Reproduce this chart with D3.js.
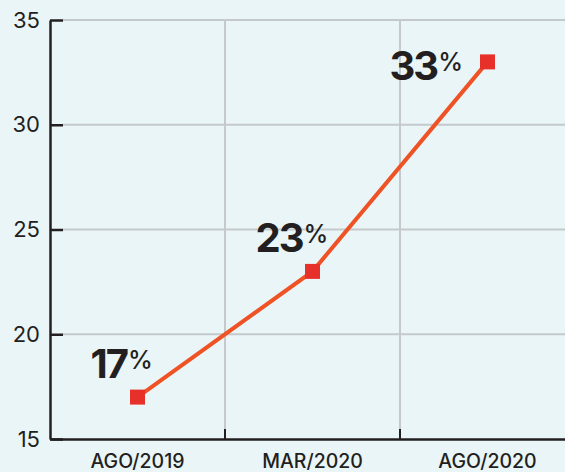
<!DOCTYPE html>
<html lang="es">
<head>
    <meta charset="UTF-8">
    <title>LineChart</title>
    <style>
        body { margin: 0; background: #eaf5f7; }
        svg { display: block; }
    </style>
</head>
<body>
<script src="https://d3js.org/d3.v7.min.js"></script>
<script>

    let w = 565, h = 472;

    // datos
    let categories = ["AGO/2019", "MAR/2020", "AGO/2020"];
    let values = [17, 23, 33];
    let yTicks = [15, 20, 25, 30, 35];

    // desplazamiento de las etiquetas respecto a cada punto
    let labelOffset = [[-47, -19], [-57, -19], [-98, 18]];

    let svg = d3.select("body")
        .append("svg")
        .attr("width", w)
        .attr("height", h);

    svg.append("rect")
        .attr("width", w)
        .attr("height", h)
        .attr("fill", "#eaf5f7");

    let xScale = d3.scaleBand()
        .domain(categories)
        .range([50, 575])
        .padding(0);

    let yScale = d3.scaleLinear()
        .domain([15, 35])
        .range([439, 20]);

    let ink = "#231f20";
    let grid = "#c6c9cb";

    // rejilla horizontal
    svg.append("g")
        .selectAll("line")
        .data(yTicks.slice(1))
        .enter()
        .append("line")
        .attr("x1", 63)
        .attr("x2", w)
        .attr("y1", d => yScale(d))
        .attr("y2", d => yScale(d))
        .attr("stroke", grid)
        .attr("stroke-width", 2);

    // rejilla vertical (límites de las bandas)
    let bounds = categories.slice(0, -1).map(c => xScale(c) + xScale.bandwidth());
    svg.append("g")
        .selectAll("line")
        .data(bounds)
        .enter()
        .append("line")
        .attr("x1", d => d)
        .attr("x2", d => d)
        .attr("y1", yScale(35))
        .attr("y2", yScale(15) - 10)
        .attr("stroke", grid)
        .attr("stroke-width", 2);

    // marcas oscuras sobre el eje x
    svg.append("g")
        .selectAll("line")
        .data(bounds)
        .enter()
        .append("line")
        .attr("x1", d => d)
        .attr("x2", d => d)
        .attr("y1", yScale(15) - 10)
        .attr("y2", yScale(15))
        .attr("stroke", ink)
        .attr("stroke-width", 2);

    // eje y
    let yAxis = d3.axisLeft(yScale)
        .tickValues(yTicks)
        .tickSizeInner(-13)
        .tickSizeOuter(0)
        .tickPadding(10);

    let gy = svg.append("g")
        .attr("transform", "translate(50,0)")
        .call(yAxis);
    gy.select(".domain").attr("stroke", ink).attr("stroke-width", 2.5);
    gy.selectAll(".tick line").attr("stroke", ink).attr("stroke-width", 2.5);
    gy.selectAll(".tick text")
        .attr("fill", ink)
        .style("font-family", "Inter, 'Noto Sans', sans-serif")
        .style("font-size", "22px")
        .style("font-weight", 400);

    // eje x
    let xAxis = d3.axisBottom(xScale)
        .tickSize(0)
        .tickPadding(15);
    let gx = svg.append("g")
        .attr("transform", "translate(0," + yScale(15) + ")")
        .call(xAxis);
    gx.select(".domain").attr("stroke", ink).attr("stroke-width", 2.5);
    gx.selectAll(".tick text")
        .attr("fill", ink)
        .style("font-family", "Inter, 'Noto Sans', sans-serif")
        .style("font-size", "19.5px")
        .style("font-weight", 500);

    // línea
    let pts = categories.map((c, i) => ({
        x: xScale(c) + xScale.bandwidth() / 2,
        y: yScale(values[i]),
        v: values[i]
    }));

    let line = d3.line()
        .x(d => d.x)
        .y(d => d.y);

    svg.append("path")
        .attr("d", line(pts))
        .attr("fill", "none")
        .attr("stroke", "#ee5225")
        .attr("stroke-width", 4);

    // marcadores cuadrados
    svg.append("g")
        .selectAll("rect")
        .data(pts)
        .enter()
        .append("rect")
        .attr("x", d => d.x - 7.5)
        .attr("y", d => d.y - 7.5)
        .attr("width", 15)
        .attr("height", 15)
        .attr("fill", "#e8302a");

    // etiquetas de valor
    let labels = svg.append("g")
        .selectAll("text")
        .data(pts)
        .enter()
        .append("text")
        .attr("x", (d, i) => d.x + labelOffset[i][0])
        .attr("y", (d, i) => d.y + labelOffset[i][1])
        .attr("fill", ink)
        .style("font-family", "Inter, 'Noto Sans', sans-serif");

    labels.append("tspan")
        .style("font-size", "40px")
        .style("font-weight", 700)
        .style("letter-spacing", "-2px")
        .text(d => d.v);

    labels.append("tspan")
        .attr("dy", -9)
        .attr("dx", 1)
        .style("font-size", "25px")
        .style("font-weight", 500)
        .text("%");

</script>
</body>
</html>
